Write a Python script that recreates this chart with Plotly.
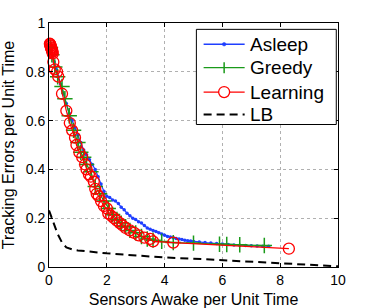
import plotly.graph_objects as go

asleep_x = [0.05, 0.08, 0.12, 0.18, 0.25, 0.32, 0.4, 0.5, 0.6, 0.7, 0.8, 0.9, 1.0, 1.1, 1.2, 1.3, 1.4, 1.5, 1.6, 1.7, 1.8, 1.9, 2.0, 2.1, 2.2, 2.3, 2.4, 2.5, 2.6, 2.7, 2.8, 2.9, 3.0, 3.1, 3.2, 3.3, 3.4, 3.5, 3.6, 3.7, 3.8, 3.9, 4.0, 4.1, 4.2, 4.3, 4.4, 4.5, 4.6, 4.7, 4.8, 4.9, 5.0, 5.2, 5.4, 5.6, 5.8, 6.0, 6.2, 6.4, 6.6, 6.8, 7.0, 7.2, 7.4, 7.6]
asleep_y = [0.90, 0.89, 0.87, 0.84, 0.81, 0.78, 0.75, 0.71, 0.67, 0.63, 0.60, 0.57, 0.54, 0.51, 0.48, 0.46, 0.44, 0.42, 0.40, 0.37, 0.34, 0.31, 0.29, 0.285, 0.275, 0.27, 0.26, 0.245, 0.235, 0.22, 0.21, 0.20, 0.195, 0.185, 0.18, 0.17, 0.16, 0.155, 0.15, 0.145, 0.14, 0.135, 0.13, 0.125, 0.123, 0.12, 0.117, 0.115, 0.113, 0.11, 0.108, 0.107, 0.105, 0.102, 0.10, 0.098, 0.096, 0.094, 0.092, 0.09, 0.089, 0.088, 0.087, 0.086, 0.085, 0.085]

greedy_x = [0.05, 0.1, 0.2, 0.3, 0.45, 0.55, 0.7, 0.85, 1.0, 1.1, 1.2, 1.3, 1.45, 1.6, 1.75, 1.9, 2.05, 2.2, 2.35, 2.5, 2.65, 2.8, 3.0, 3.2, 3.4, 3.6, 3.9, 4.3, 5.0, 5.9, 6.15, 6.6, 7.45]
greedy_y = [0.90, 0.87, 0.82, 0.78, 0.74, 0.69, 0.62, 0.56, 0.51, 0.47, 0.45, 0.42, 0.39, 0.33, 0.30, 0.27, 0.24, 0.215, 0.195, 0.18, 0.165, 0.15, 0.14, 0.125, 0.115, 0.11, 0.105, 0.10, 0.098, 0.093, 0.092, 0.091, 0.088]

learning_x = [0.03, 0.04, 0.05, 0.06, 0.07, 0.08, 0.09, 0.1, 0.11, 0.12, 0.13, 0.15, 0.2, 0.28, 0.32, 0.45, 0.6, 0.72, 0.8, 0.9, 0.95, 1.05, 1.15, 1.25, 1.3, 1.38, 1.45, 1.55, 1.6, 1.65, 1.72, 1.8, 1.9, 2.0, 2.05, 2.15, 2.25, 2.35, 2.45, 2.55, 2.65, 2.8, 2.95, 3.1, 3.3, 3.5, 3.6, 4.3, 8.3]
learning_y = [0.915, 0.912, 0.908, 0.905, 0.90, 0.897, 0.893, 0.89, 0.886, 0.882, 0.875, 0.84, 0.81, 0.80, 0.78, 0.71, 0.64, 0.59, 0.56, 0.53, 0.50, 0.47, 0.45, 0.42, 0.40, 0.38, 0.37, 0.35, 0.32, 0.30, 0.29, 0.27, 0.25, 0.24, 0.22, 0.21, 0.20, 0.19, 0.18, 0.17, 0.16, 0.15, 0.14, 0.13, 0.12, 0.115, 0.105, 0.10, 0.075]

lb_x = [0.0, 0.1, 0.2, 0.3, 0.45, 0.6, 0.8, 1.0, 2.0, 3.0, 4.0, 5.0, 6.0, 7.0, 8.0, 9.0, 10.0]
lb_y = [0.232, 0.20, 0.165, 0.135, 0.10, 0.08, 0.072, 0.068, 0.056, 0.047, 0.039, 0.034, 0.028, 0.023, 0.016, 0.01, 0.003]

series_names = ["Asleep", "Greedy", "Learning", "LB"]
BLUE, GREEN, RED = "#1f3fff", "#1a9a1a", "#ff0000"
LB_DASH = "8px,5px"

fig = go.Figure()
fig.add_trace(go.Scatter(x=asleep_x, y=asleep_y, name=series_names[0], mode="lines+markers",
                         line=dict(color=BLUE, width=1.2),
                         marker=dict(symbol="circle", size=3.5, color=BLUE)))
fig.add_trace(go.Scatter(x=greedy_x, y=greedy_y, name=series_names[1], mode="lines+markers",
                         line=dict(color=GREEN, width=1.2),
                         marker=dict(symbol="cross-thin", size=11, color=GREEN, line=dict(color=GREEN, width=1.5))))
fig.add_trace(go.Scatter(x=learning_x, y=learning_y, name=series_names[2], mode="lines+markers",
                         line=dict(color=RED, width=1.2), cliponaxis=False,
                         marker=dict(symbol="circle-open", size=11, color=RED, line=dict(width=1.3))))
fig.add_trace(go.Scatter(x=lb_x, y=lb_y, name=series_names[3], mode="lines",
                         line=dict(color="black", width=2, dash=LB_DASH)))

axis_common = dict(showline=True, linecolor="black", linewidth=1, mirror="allticks",
                   ticks="inside", ticklen=4, tickcolor="black", automargin=False,
                   showgrid=True, gridcolor="#b0b0b0", griddash="dot", gridwidth=1,
                   zeroline=False, tickfont=dict(size=14, color="black"))
fig.update_xaxes(range=[0, 10], dtick=2, title=dict(text="Sensors Awake per Unit Time", font=dict(size=16, color="black")), **axis_common)
fig.update_yaxes(range=[0, 1], dtick=0.2, tickformat="~g", title=dict(text="Tracking Errors per Unit Time", font=dict(size=16, color="black")), **axis_common)

# custom legend (MATLAB-style compact rows), in paper coordinates
shapes = [dict(type="rect", xref="paper", yref="paper", x0=0.510, x1=0.994, y0=0.584, y1=0.974,
               line=dict(color="black", width=1), fillcolor="white", layer="above")]
annotations = []
rows = [0.913, 0.817, 0.717, 0.625]
lx0, lx1, lxm, tx = 0.535, 0.677, 0.606, 0.693
styles = [(BLUE, "solid"), (GREEN, "solid"), (RED, "solid"), ("black", LB_DASH)]
for name, ry, (col, dash) in zip(series_names, rows, styles):
    shapes.append(dict(type="line", xref="paper", yref="paper", x0=lx0, x1=lx1, y0=ry, y1=ry,
                       line=dict(color=col, width=2 if col == "black" else 1.3, dash=dash), layer="above"))
    annotations.append(dict(text=name, xref="paper", yref="paper", x=tx, y=ry, xanchor="left", yanchor="middle",
                            showarrow=False, font=dict(size=19, color="black"), borderpad=0))
# legend marker samples
shapes.append(dict(type="circle", xref="paper", yref="paper", xsizemode="pixel", ysizemode="pixel",
                   xanchor=lxm, yanchor=rows[0], x0=-1.8, x1=1.8, y0=-1.8, y1=1.8,
                   fillcolor=BLUE, line=dict(color=BLUE, width=0.5), layer="above"))
shapes.append(dict(type="line", xref="paper", yref="paper", xsizemode="pixel", ysizemode="pixel",
                   xanchor=lxm, yanchor=rows[1], x0=0, x1=0, y0=-5.5, y1=5.5,
                   line=dict(color=GREEN, width=1.5), layer="above"))
shapes.append(dict(type="circle", xref="paper", yref="paper", xsizemode="pixel", ysizemode="pixel",
                   xanchor=lxm, yanchor=rows[2], x0=-5.5, x1=5.5, y0=-5.5, y1=5.5,
                   fillcolor="white", line=dict(color=RED, width=1.3), layer="above"))

fig.update_layout(width=374, height=308, margin=dict(l=49, r=36, t=23, b=41, autoexpand=False),
                  paper_bgcolor="white", plot_bgcolor="white", showlegend=False,
                  font=dict(family="Liberation Sans, Arial, sans-serif", color="black"),
                  shapes=shapes, annotations=annotations)
fig.write_html("out.html", config={"displayModeBar": False},
               post_script="document.body.style.margin='0';document.body.style.padding='0';")
